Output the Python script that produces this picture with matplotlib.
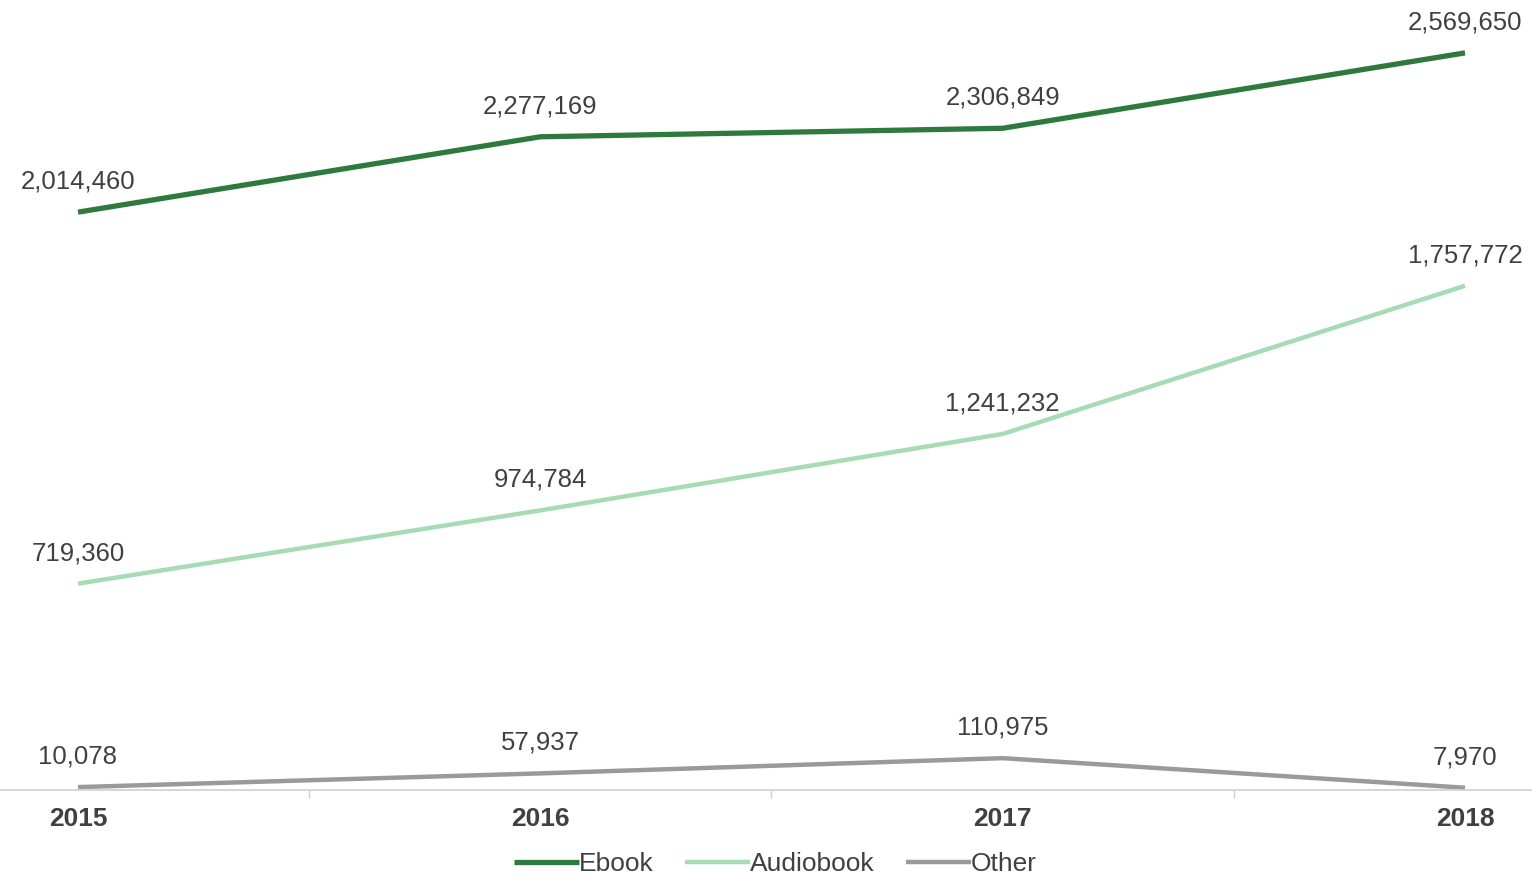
import numpy as np
import matplotlib.pyplot as plt

plt.rcParams['font.family'] = ['Liberation Sans', 'DejaVu Sans']

# Données
years = ['2015', '2016', '2017', '2018']
ebook = [2014460, 2277169, 2306849, 2569650]
audiobook = [719360, 974784, 1241232, 1757772]
other = [10078, 57937, 110975, 7970]

series = [
    ('Ebook', ebook, '#2e7a3e', 3.8),
    ('Audiobook', audiobook, '#a6dcb3', 3.2),
    ('Other', other, '#9a9a9a', 3.2),
]

fig = plt.figure(figsize=(15.32, 8.77), dpi=100)
ax = fig.add_axes([0, 0.0992, 1, 0.9008])

x = np.arange(len(years))
for name, vals, color, lw in series:
    ax.plot(x, vals, color=color, linewidth=lw, label=name,
            solid_capstyle='butt')
    for xi, v in zip(x, vals):
        ax.annotate(f'{v:,}', (xi, v), xytext=(0, 22), textcoords='offset points',
                    ha='center', va='center', fontsize=18.5, color='#404040')

ax.set_xlim(-78 / 462.33, 1532 / 462.33 - 78 / 462.33)
ax.set_ylim(0, 2.754e6)

for side in ['top', 'left', 'right']:
    ax.spines[side].set_visible(False)
ax.spines['bottom'].set_color('#d0d0d0')
ax.spines['bottom'].set_linewidth(1.2)
ax.set_yticks([])

ax.set_xticks(x)
ax.set_xticklabels(years, fontsize=19, fontweight='bold', color='#404040')
ax.tick_params(axis='x', which='major', length=0, pad=12)
ax.set_xticks([0.5, 1.5, 2.5], minor=True)
ax.tick_params(axis='x', which='minor', length=6, color='#d0d0d0', width=1)

leg = fig.legend(loc='center', bbox_to_anchor=(0.506, 13 / 877), ncol=3,
                 frameon=False, fontsize=19, handlelength=2.45, handletextpad=0.0,
                 columnspacing=1.2, borderpad=0)
for t in leg.get_texts():
    t.set_color('#404040')

fig.savefig('out.png', dpi=100)
